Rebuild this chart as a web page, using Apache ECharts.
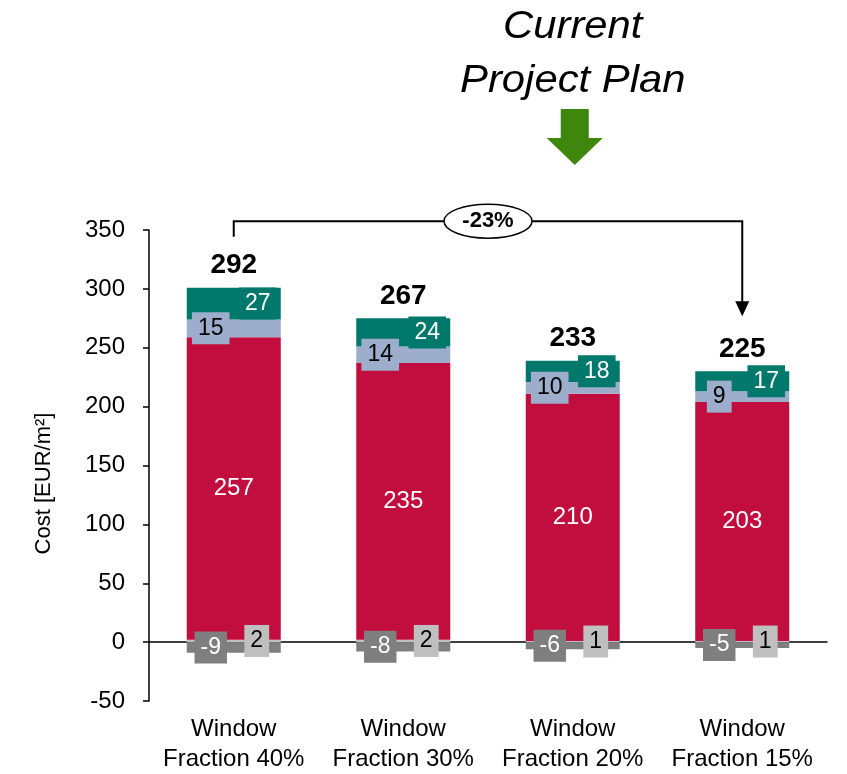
<!DOCTYPE html>
<html>
<head>
<meta charset="utf-8">
<script src="https://cdn.jsdelivr.net/npm/echarts@6/dist/echarts.min.js"></script>
<style>
  html, body { margin: 0; padding: 0; background: #fff; }
  #chart { width: 847px; height: 774px; }
</style>
</head>
<body>
<div id="chart"></div>
<script>
// Cost breakdown per window fraction, EUR per m²
const categories = ['Window\nFraction 40%', 'Window\nFraction 30%', 'Window\nFraction 20%', 'Window\nFraction 15%'];
const costOther   = [2, 2, 1, 1];
const costMain    = [257, 235, 210, 203];
const costBlue    = [15, 14, 10, 9];
const costTeal    = [27, 24, 18, 17];
const costCredit  = [-9, -8, -6, -5];
const changeLabel = '-23%';
const headline    = ['Current', 'Project Plan'];
const planIndex   = 2;   // category marked as the current plan

const FONT = '"Liberation Sans", Arial, Helvetica, sans-serif';
const C = {
  other: '#bfbfbf',
  main: '#c20e3e',
  blue: '#9caecb',
  teal: '#00786b',
  credit: '#7f7f7f',
  green: '#3f860c'
};

// net totals and the height of the positive stack
const positiveTop = categories.map((_, i) => costOther[i] + costMain[i] + costBlue[i] + costTeal[i]);
const totals = categories.map((_, i) => positiveTop[i] + costCredit[i]);

function boxLabel(bg, color, dx) {
  return {
    show: true, position: 'inside', offset: [dx, 0],
    color: color, backgroundColor: bg,
    padding: [5, 6, 4, 6], fontSize: 23, lineHeight: 23, fontFamily: FONT
  };
}

const chart = echarts.init(document.getElementById('chart'), null, { renderer: 'canvas' });

const option = {
  animation: false,
  backgroundColor: '#ffffff',
  grid: { left: 149, right: 20, top: 230, bottom: 72 },
  xAxis: [
    {
      type: 'category', data: categories,
      axisLine: { onZero: true, lineStyle: { color: '#000', width: 1.5 } },
      axisTick: { show: false }, axisLabel: { show: false }
    },
    {
      type: 'category', data: categories, position: 'bottom',
      axisLine: { show: false, onZero: false }, axisTick: { show: false },
      axisLabel: { interval: 0, hideOverlap: false, color: '#000', fontSize: 24, lineHeight: 30, fontFamily: FONT, margin: 13 }
    }
  ],
  yAxis: {
    type: 'value', min: -50, max: 350, interval: 50,
    name: 'Cost [EUR/m²]', nameLocation: 'middle', nameGap: 94,
    nameTextStyle: { color: '#000', fontSize: 22, fontFamily: FONT, padding: [0, 36, 0, 0] },
    axisLine: { show: true, lineStyle: { color: '#000', width: 1.5 } },
    axisTick: { show: true, inside: false, length: 6, lineStyle: { color: '#000', width: 1.5 } },
    axisLabel: { color: '#000', fontSize: 24, fontFamily: FONT, margin: 24 },
    splitLine: { show: false }
  },
  series: [
    {
      name: 'Cost E', type: 'bar', stack: 'cost', data: costOther, barWidth: 94,
      itemStyle: { color: C.other },
      label: boxLabel(C.other, '#000', 23)
    },
    {
      name: 'Cost A', type: 'bar', stack: 'cost', data: costMain, barWidth: 94,
      itemStyle: { color: C.main },
      label: { show: true, position: 'inside', color: '#fff', fontSize: 24, fontFamily: FONT }
    },
    {
      name: 'Cost B', type: 'bar', stack: 'cost', data: costBlue, barWidth: 94,
      itemStyle: { color: C.blue },
      label: boxLabel(C.blue, '#000', -23)
    },
    {
      name: 'Cost C', type: 'bar', stack: 'cost', data: costTeal, barWidth: 94,
      itemStyle: { color: C.teal },
      label: boxLabel(C.teal, '#fff', 24)
    },
    {
      name: 'Cost D', type: 'bar', stack: 'cost', data: costCredit, barWidth: 94,
      itemStyle: { color: C.credit },
      label: boxLabel(C.credit, '#fff', -23)
    },
    {
      name: 'Total', type: 'scatter', symbolSize: 1,
      itemStyle: { color: '#fff', opacity: 1 },
      data: positiveTop.map((v, i) => [i, v]),
      label: {
        show: true, position: 'top', distance: 8, opacity: 1,
        color: '#000000', fontSize: 28, fontWeight: 'bold', fontFamily: FONT,
        formatter: p => String(totals[p.dataIndex])
      },
      emphasis: { disabled: true },
      z: 1
    }
  ]
};

chart.setOption(option);

// annotations positioned from the axis scales
const px = i => chart.convertToPixel({ xAxisIndex: 0 }, i);
const py = v => chart.convertToPixel({ yAxisIndex: 0 }, v);
const xFirst = px(0), xLast = px(categories.length - 1), xPlan = px(planIndex);
const yLevel = py(357.5);
const yDropStart = py(positiveTop[0]) - 51;
const yArrowTip = py(positiveTop[categories.length - 1]) - 55;
const xMid = (xFirst + xLast) / 2;

chart.setOption({
  graphic: [
    {
      type: 'polyline', z: 10,
      shape: { points: [[xFirst, yDropStart], [xFirst, yLevel], [xLast, yLevel], [xLast, yArrowTip - 12]] },
      style: { stroke: '#000', lineWidth: 2, fill: null }
    },
    {
      type: 'polygon', z: 10,
      shape: { points: [[xLast - 7, yArrowTip - 15], [xLast + 7, yArrowTip - 15], [xLast, yArrowTip]] },
      style: { fill: '#000' }
    },
    {
      type: 'ellipse', z: 11,
      shape: { cx: xMid, cy: yLevel, rx: 44, ry: 17 },
      style: { fill: '#fff', stroke: '#000', lineWidth: 1.5 }
    },
    {
      type: 'text', z: 12, x: xMid, y: yLevel,
      style: { text: changeLabel, fill: '#000', font: 'bold 22px ' + FONT, align: 'center', verticalAlign: 'middle' }
    },
    {
      type: 'text', z: 12, x: xPlan, y: 27, scaleX: 1.1, originX: 0, originY: 0,
      style: { text: headline[0], fill: '#000', font: 'italic 38px ' + FONT, align: 'center', verticalAlign: 'middle' }
    },
    {
      type: 'text', z: 12, x: xPlan, y: 81, scaleX: 1.1, originX: 0, originY: 0,
      style: { text: headline[1], fill: '#000', font: 'italic 38px ' + FONT, align: 'center', verticalAlign: 'middle' }
    },
    {
      type: 'polygon', z: 12,
      shape: { points: [
        [xPlan - 12, 109], [xPlan + 16, 109], [xPlan + 16, 138], [xPlan + 30, 138],
        [xPlan + 2, 165], [xPlan - 26, 138], [xPlan - 12, 138]
      ] },
      style: { fill: C.green }
    }
  ]
});
</script>
</body>
</html>
